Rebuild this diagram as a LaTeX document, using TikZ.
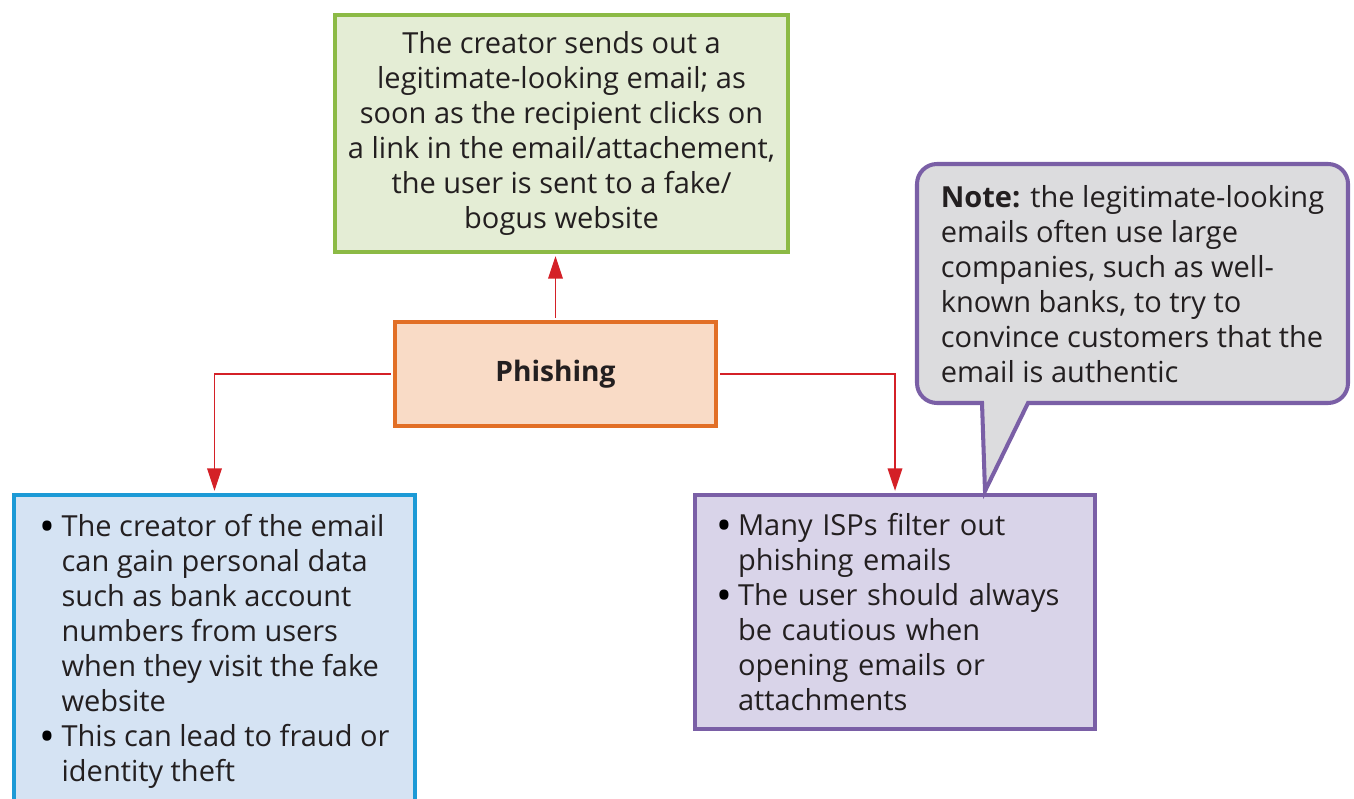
\documentclass[tikz,border=0pt]{standalone}
\usepackage{fontspec}
\setmainfont{Open Sans}
\usetikzlibrary{arrows.meta, positioning, calc}
\definecolor{leafgreen}{HTML}{8CBA45}
\definecolor{leaffill}{HTML}{E4EDD5}
\definecolor{rust}{HTML}{E26F26}
\definecolor{peach}{HTML}{F9DBC6}
\definecolor{skyblue}{HTML}{1C9AD6}
\definecolor{skyfill}{HTML}{D5E3F3}
\definecolor{ispviolet}{HTML}{7A5FA6}
\definecolor{lilac}{HTML}{D9D4E9}
\definecolor{notegray}{HTML}{DCDCDE}
\definecolor{linkred}{HTML}{D42027}
\definecolor{inkgray}{HTML}{231F20}

\newcommand{\bitem}{\makebox[0.44cm][l]{\raisebox{-3pt}{\fontsize{24}{0}\selectfont\color{black}\textbullet}}}
\newcommand{\bcont}{\hspace*{0.44cm}}

\begin{document}
\begin{tikzpicture}[
  font=\fontsize{16.5}{19.9}\selectfont,
  box/.style={draw, line width=2.3pt, text=inkgray, inner sep=0pt},
  link/.style={draw=linkred, line width=1.1pt, shorten <=1.2pt, shorten >=1.2pt,
               -{Triangle[length=0.45cm, width=0.29cm]}}
]

% Page
\useasboundingbox (0,0) rectangle (27.08,15.96);

% What the creator does (top)
\node[box, draw=leafgreen, fill=leaffill, minimum width=9.06cm, minimum height=4.74cm,
      align=center] (green) at (11.23,13.29)
      {The creator sends out a\\
       legitimate-looking email; as\\
       soon as the recipient clicks on\\
       a link in the email/attachement,\\
       the user is sent to a fake/\\
       bogus website};

% Centre node
\node[box, draw=rust, fill=peach, minimum width=6.42cm, minimum height=2.08cm,
      font=\fontsize{16}{19.9}\selectfont\bfseries] (phish) at (11.11,8.48) {Phishing};

% Consequences (left)
\node[box, draw=skyblue, fill=skyfill, minimum width=8.02cm, minimum height=6.24cm,
      align=left] (theft) at (4.29,2.94)
      {\bitem The creator of the email\\
       \bcont can gain personal data\\
       \bcont such as bank account\\
       \bcont numbers from users\\
       \bcont when they visit the fake\\
       \bcont website\\
       \bitem This can lead to fraud or\\
       \bcont identity theft};

% Protection (right)
\node[box, draw=ispviolet, fill=lilac, minimum width=8.0cm, minimum height=4.68cm,
      text width=7.16cm, align=left] (isp) at (17.90,3.72)
      {\bitem Many ISPs filter out\\
       \bcont phishing emails\\
       \bitem The user should always\\
       \bcont be cautious when\\
       \bcont opening emails or\\
       \bcont attachments};

% Speech bubble
\draw[ispviolet, line width=2.3pt, fill=notegray, rounded corners=0.4cm]
  (19.64,7.90) -- (18.34,7.90) -- (18.34,12.68) -- (26.96,12.68) -- (26.96,7.90)
  [sharp corners] -- (20.56,7.90) -- (19.70,6.14) -- cycle;
\node[text=inkgray, align=left, inner sep=0pt] (note) at (22.65,10.27)
      {\textbf{Note:} the legitimate-looking\\
       emails often use large\\
       companies, such as well-\\
       known banks, to try to\\
       convince customers that the\\
       email is authentic};

% Links
\draw[link] (phish.north) -- (phish.north |- green.south);
\draw[link] (phish.west) -| (theft.north);
\draw[link] (phish.east) -| (isp.north);

\end{tikzpicture}
\end{document}
